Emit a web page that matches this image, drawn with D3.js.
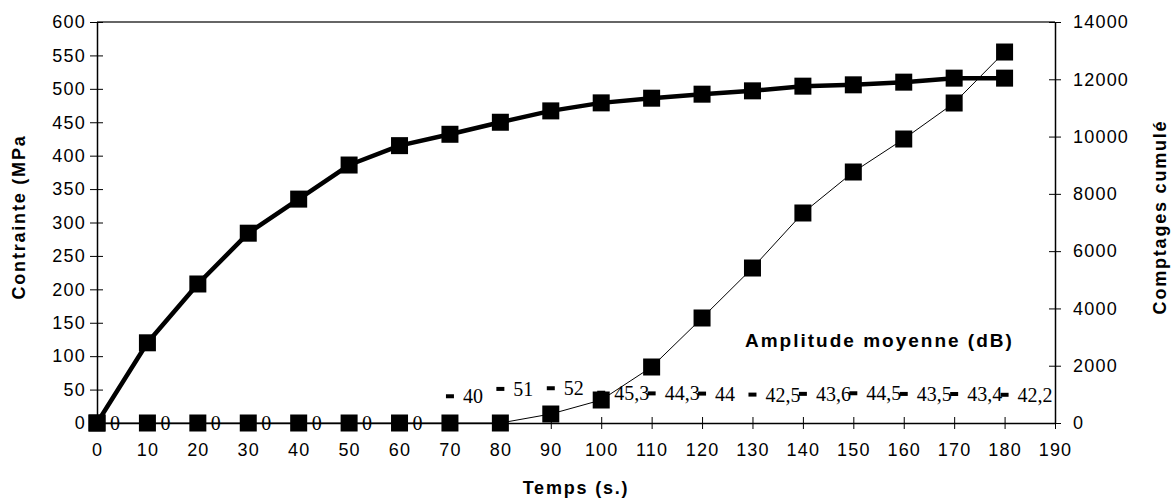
<!DOCTYPE html>
<html>
<head>
<meta charset="utf-8">
<script src="https://cdn.jsdelivr.net/npm/d3@7"></script>
<style>
  body { margin: 0; background: #fff; }
  svg { display: block; }
  .tick text { font-family: "Liberation Sans", Arial, sans-serif; font-size: 18px; fill: #000; }
  .title { font-family: "Liberation Sans", Arial, sans-serif; font-size: 18px; font-weight: bold; letter-spacing: 1.8px; }
  .lbl { font-family: "Liberation Serif", "Times New Roman", serif; font-size: 20px; fill: #000; }
</style>
</head>
<body>
<div id="chart"></div>
<script>
// data
const temps = [0, 10, 20, 30, 40, 50, 60, 70, 80, 90, 100, 110, 120, 130, 140, 150, 160, 170, 180];
const contrainte = [0, 120, 208, 284, 335, 386, 415, 432, 450, 467, 479, 486, 492, 497, 504, 506, 510, 516, 516];
const comptages = [0, 0, 0, 0, 0, 0, 0, 0, 0, 314, 803, 1955, 3666, 5411, 7332, 8763, 9915, 11172, 12952];
const amplitude = [0, 0, 0, 0, 0, 0, 0, 40, 51, 52, 45.3, 44.3, 44, 42.5, 43.6, 44.5, 43.5, 43.4, 42.2];
const xTicks = d3.range(0, 191, 10);
const yLeftTicks = d3.range(0, 601, 50);
const yRightTicks = d3.range(0, 14001, 2000);

const W = 1174, H = 499;
const margin = {top: 22, right: 119, bottom: 76, left: 97};
const width = W - margin.left - margin.right;
const height = H - margin.top - margin.bottom;

const svg = d3.select("#chart").append("svg")
    .attr("width", W)
    .attr("height", H);

const g = svg.append("g")
    .attr("transform", `translate(${margin.left},${margin.top})`);

const x = d3.scaleLinear().domain([0, 190]).range([0, width]);
const yL = d3.scaleLinear().domain([0, 600]).range([height, 0]);
const yR = d3.scaleLinear().domain([0, 14000]).range([height, 0]);

// frame top line
g.append("line")
    .attr("x1", 0).attr("x2", width)
    .attr("y1", 0).attr("y2", 0)
    .attr("stroke", "#333").attr("stroke-width", 1.5);

// axes, ticks crossing the axis line
const xAxis = g.append("g")
    .attr("transform", `translate(0,${height})`)
    .call(d3.axisBottom(x).tickValues(xTicks).tickSizeOuter(0).tickPadding(14));
xAxis.selectAll(".tick line").attr("y1", -6).attr("y2", 6);

const yAxisL = g.append("g")
    .call(d3.axisLeft(yL).tickValues(yLeftTicks).tickSizeOuter(0).tickPadding(5));
yAxisL.selectAll(".tick line").attr("x1", -7).attr("x2", 6);

const yAxisR = g.append("g")
    .attr("transform", `translate(${width},0)`)
    .call(d3.axisRight(yR).tickValues(yRightTicks).tickFormat(d3.format("d")).tickSizeOuter(0).tickPadding(12));
yAxisR.selectAll(".tick line").attr("x1", -6).attr("x2", 6);

g.selectAll(".domain").attr("stroke", "#000").attr("stroke-width", 1.5);
g.selectAll(".tick line").attr("stroke", "#000").attr("stroke-width", 1);
g.selectAll(".tick text").style("letter-spacing", "1.2px");

const mk = 17;

// cumulative counts (right axis), thin line
const countData = temps.map((t, i) => ({t: t, v: comptages[i]}));
g.append("path")
    .datum(countData)
    .attr("fill", "none")
    .attr("stroke", "#000")
    .attr("stroke-width", 1)
    .attr("d", d3.line().x(d => x(d.t)).y(d => yR(d.v)));
g.selectAll(".cnt")
    .data(countData)
    .enter().append("rect")
    .attr("class", "cnt")
    .attr("x", d => x(d.t) - mk / 2)
    .attr("y", d => yR(d.v) - mk / 2)
    .attr("width", mk).attr("height", mk)
    .attr("fill", "#000");

// stress (left axis), thick line
const stressData = temps.map((t, i) => ({t: t, v: contrainte[i]}));
g.append("path")
    .datum(stressData)
    .attr("fill", "none")
    .attr("stroke", "#000")
    .attr("stroke-width", 4.5)
    .attr("stroke-linejoin", "round")
    .attr("d", d3.line().x(d => x(d.t)).y(d => yL(d.v)));
g.selectAll(".str")
    .data(stressData)
    .enter().append("rect")
    .attr("class", "str")
    .attr("x", d => x(d.t) - mk / 2)
    .attr("y", d => yL(d.v) - mk / 2)
    .attr("width", mk).attr("height", mk)
    .attr("fill", "#000");

// mean amplitude: small dashes + data labels (left axis)
const ampData = temps.map((t, i) => ({t: t, v: amplitude[i]}));
g.selectAll(".amp")
    .data(ampData)
    .enter().append("rect")
    .attr("class", "amp")
    .attr("x", d => x(d.t) - 4)
    .attr("y", d => yL(d.v) - 2)
    .attr("width", 8).attr("height", 4)
    .attr("fill", "#000");
g.selectAll(".lbl")
    .data(ampData)
    .enter().append("text")
    .attr("class", "lbl")
    .attr("x", d => x(d.t) + 13)
    .attr("y", d => yL(d.v) + 7)
    .text(d => String(d.v).replace(".", ","));

// titles
svg.append("text")
    .attr("class", "title")
    .attr("x", margin.left + width / 2)
    .attr("y", 494)
    .attr("text-anchor", "middle")
    .text("Temps (s.)");

svg.append("text")
    .attr("class", "title")
    .attr("transform", "translate(25,217) rotate(-90)")
    .attr("text-anchor", "middle")
    .text("Contrainte (MPa");

svg.append("text")
    .attr("class", "title")
    .attr("transform", "translate(1166,217) rotate(-90)")
    .attr("text-anchor", "middle")
    .text("Comptages cumulé");

svg.append("text")
    .attr("class", "title")
    .attr("x", 745)
    .attr("y", 347)
    .style("letter-spacing", "2px")
    .style("font-size", "19px")
    .text("Amplitude moyenne (dB)");
</script>
</body>
</html>
